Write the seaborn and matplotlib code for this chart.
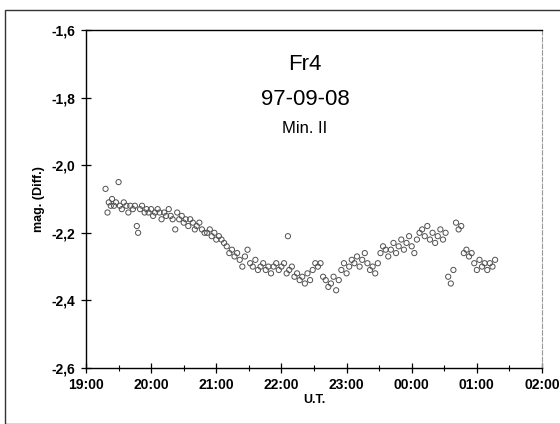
import matplotlib
matplotlib.use("Agg")
import matplotlib.pyplot as plt
import seaborn as sns
import pandas as pd
from matplotlib.patches import Rectangle
from matplotlib.ticker import MultipleLocator

# time in hours U.T. (values past midnight given as 24+)
times = [19.30, 19.33, 19.35, 19.38, 19.40, 19.43, 19.46, 19.50, 19.52, 19.55,
         19.58, 19.62, 19.65, 19.68, 19.72, 19.75, 19.78, 19.80, 19.83, 19.86,
         19.90, 19.93, 19.96, 20.00, 20.03, 20.06, 20.10, 20.13, 20.16, 20.20,
         20.23, 20.27, 20.30, 20.33, 20.37, 20.40, 20.43, 20.47, 20.50, 20.53,
         20.57, 20.60, 20.64, 20.67, 20.70, 20.74, 20.78, 20.82, 20.86, 20.90,
         20.93, 20.97, 21.00, 21.04, 21.08, 21.12, 21.16, 21.20, 21.24, 21.28,
         21.32, 21.36, 21.40, 21.44, 21.48, 21.52, 21.56, 21.60, 21.64, 21.68,
         21.72, 21.76, 21.80, 21.84, 21.88, 21.92, 21.96, 22.00, 22.04, 22.08,
         22.10, 22.12, 22.16, 22.20, 22.24, 22.28, 22.32, 22.36, 22.40, 22.44,
         22.48, 22.52, 22.56, 22.60, 22.64, 22.68, 22.72, 22.76, 22.80, 22.84,
         22.88, 22.92, 22.96, 23.00, 23.04, 23.08, 23.12, 23.16, 23.20, 23.24,
         23.28, 23.32, 23.36, 23.40, 23.44, 23.48, 23.52, 23.56, 23.60, 23.64,
         23.68, 23.72, 23.76, 23.80, 23.84, 23.88, 23.92, 23.96, 24.00, 24.04,
         24.08, 24.12, 24.16, 24.20, 24.24, 24.28, 24.32, 24.36, 24.40, 24.44,
         24.48, 24.52, 24.56, 24.60, 24.64, 24.68, 24.72, 24.76, 24.80, 24.84,
         24.88, 24.92, 24.96, 25.00, 25.04, 25.08, 25.12, 25.16, 25.20, 25.24,
         25.28]

mags = [-2.07, -2.14, -2.11, -2.12, -2.10, -2.12, -2.11, -2.05, -2.12, -2.13,
        -2.11, -2.12, -2.14, -2.12, -2.13, -2.12, -2.18, -2.20, -2.13, -2.12,
        -2.14, -2.13, -2.14, -2.13, -2.15, -2.14, -2.13, -2.14, -2.16, -2.14,
        -2.15, -2.13, -2.15, -2.16, -2.19, -2.14, -2.16, -2.15, -2.17, -2.16,
        -2.18, -2.16, -2.17, -2.19, -2.18, -2.17, -2.19, -2.20, -2.20, -2.19,
        -2.21, -2.20, -2.22, -2.21, -2.22, -2.23, -2.24, -2.26, -2.25, -2.27,
        -2.26, -2.28, -2.30, -2.27, -2.25, -2.29, -2.30, -2.28, -2.31, -2.30,
        -2.29, -2.31, -2.30, -2.32, -2.30, -2.29, -2.31, -2.30, -2.29, -2.32,
        -2.21, -2.31, -2.30, -2.33, -2.32, -2.34, -2.33, -2.35, -2.32, -2.34,
        -2.31, -2.29, -2.30, -2.29, -2.33, -2.34, -2.36, -2.35, -2.33, -2.37,
        -2.34, -2.31, -2.29, -2.32, -2.30, -2.28, -2.29, -2.27, -2.30, -2.28,
        -2.26, -2.29, -2.31, -2.30, -2.32, -2.29, -2.26, -2.24, -2.25, -2.27,
        -2.25, -2.23, -2.26, -2.24, -2.22, -2.25, -2.23, -2.21, -2.24, -2.26,
        -2.22, -2.20, -2.19, -2.21, -2.18, -2.22, -2.20, -2.23, -2.21, -2.19,
        -2.22, -2.20, -2.33, -2.35, -2.31, -2.17, -2.19, -2.18, -2.26, -2.25,
        -2.27, -2.26, -2.29, -2.31, -2.28, -2.30, -2.29, -2.31, -2.29, -2.30,
        -2.28]

x_ticks = [19, 20, 21, 22, 23, 24, 25, 26]
x_tick_labels = ["19:00", "20:00", "21:00", "22:00", "23:00", "00:00", "01:00", "02:00"]
y_ticks = [-1.6, -1.8, -2.0, -2.2, -2.4, -2.6]
y_tick_labels = ["-1,6", "-1,8", "-2,0", "-2,2", "-2,4", "-2,6"]

df = pd.DataFrame({"t": times, "mag": mags})

sns.set_style("white")
plt.rcParams["font.family"] = ["Liberation Sans", "DejaVu Sans"]
plt.rcParams["text.color"] = "black"
plt.rcParams["axes.labelcolor"] = "black"
plt.rcParams["xtick.color"] = "black"
plt.rcParams["ytick.color"] = "black"

fig = plt.figure(figsize=(5.6, 4.24), dpi=100)
ax = fig.add_axes([86 / 560, 1 - 368 / 424, (542 - 86) / 560, (368 - 30) / 424])

sns.scatterplot(data=df, x="t", y="mag", ax=ax, marker="o", s=14,
                facecolor="none", edgecolor="#505050", linewidth=0.7)

ax.set_xlim(19, 26)
ax.set_ylim(-2.6, -1.6)
ax.set_xticks(x_ticks)
ax.set_xticklabels(x_tick_labels, fontsize=10, fontweight="bold")
ax.xaxis.set_minor_locator(MultipleLocator(0.5))
ax.set_yticks(y_ticks)
ax.set_yticklabels(y_tick_labels, fontsize=10, fontweight="bold")
ax.tick_params(axis="both", which="major", direction="inout", length=7, width=0.9,
               color="black", labelcolor="black", pad=4, bottom=True, left=True)
ax.tick_params(axis="x", which="minor", direction="inout", length=4, width=0.8,
               color="black", bottom=True)

ax.set_xlabel("U.T.", fontsize=9, fontweight="bold", labelpad=1, color="black")
ax.set_ylabel("mag. (Diff.)", fontsize=9, fontweight="bold", labelpad=5, color="black")

for side in ["left", "bottom", "top"]:
    ax.spines[side].set_color("black")
    ax.spines[side].set_linewidth(1.0)
ax.spines["right"].set_color("#999999")
ax.spines["right"].set_linestyle((0, (4, 2)))
ax.spines["right"].set_linewidth(0.8)

ax.text(0.48, 0.899, "Fr4", transform=ax.transAxes, ha="center", va="center",
        fontsize=16, color="black")
ax.text(0.48, 0.793, "97-09-08", transform=ax.transAxes, ha="center", va="center",
        fontsize=16, color="black")
ax.text(0.48, 0.71, "Min. II", transform=ax.transAxes, ha="center", va="center",
        fontsize=12, color="black")

fig.patches.append(Rectangle((5 / 560, 0.0), 1.2, 1 - 10 / 424, transform=fig.transFigure,
                             fill=False, edgecolor="#333333", linewidth=1.0))

fig.savefig("out.png", dpi=100)
